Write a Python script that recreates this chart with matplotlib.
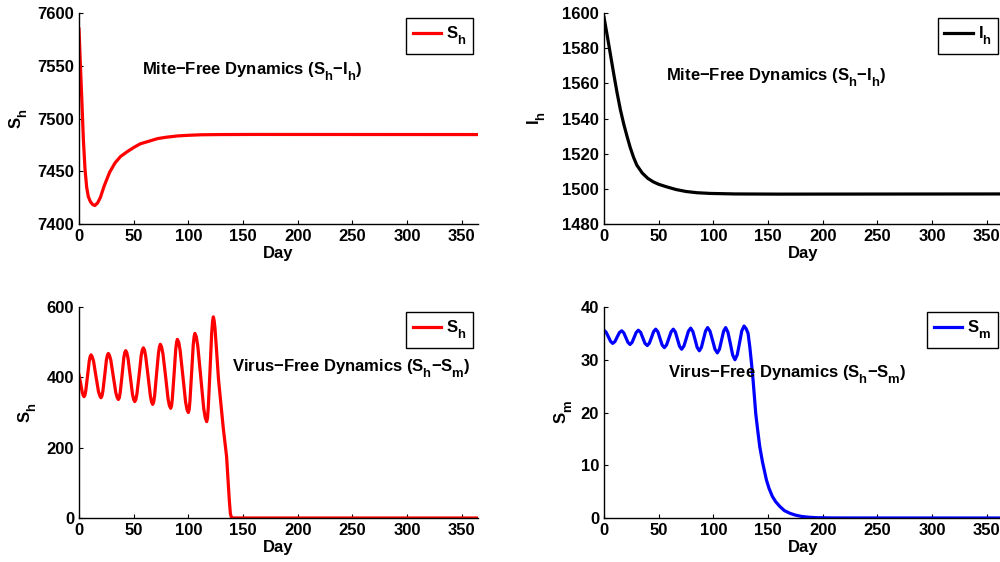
import matplotlib
matplotlib.use("Agg")
import matplotlib.pyplot as plt

plt.rcParams["font.family"] = ["Liberation Sans", "DejaVu Sans"]
plt.rcParams["font.weight"] = "bold"
plt.rcParams["font.size"] = 12
plt.rcParams["mathtext.fontset"] = "custom"
plt.rcParams["mathtext.rm"] = "Liberation Sans:bold"
plt.rcParams["mathtext.it"] = "Liberation Sans:bold"
plt.rcParams["mathtext.bf"] = "Liberation Sans:bold"

# MATLAB-like subscripts: bigger and lower than the mathtext default
try:
    import matplotlib._mathtext as mt
    mt.SHRINK_FACTOR = 0.78
    mt.FontConstantsBase.sub1 = 0.75
except Exception:
    pass

# mite-free: S_h
mf_sh_days = [0, 1, 2.5, 4, 5.5, 7, 8.5, 10.5, 12.5, 14.5, 17, 19.5, 23, 28, 33, 38, 44,
              50, 56, 64, 72, 80, 90, 100, 112, 130, 160, 365]
mf_sh_vals = [7584.8, 7558, 7520, 7480, 7452, 7435, 7426, 7421, 7418.5, 7417.5, 7420, 7425,
              7436, 7449, 7458, 7464, 7468.5, 7472.5, 7476, 7478.5, 7481, 7482.3, 7483.5,
              7484.1, 7484.6, 7484.8, 7484.9, 7484.8]

# mite-free: I_h
mf_ih_days = [0, 3, 6, 9, 12, 15, 18, 21, 24, 27, 30, 35, 40, 45, 50, 57, 66, 75, 85, 97,
              120, 160, 365]
mf_ih_vals = [1597.6, 1587, 1576, 1565, 1554.5, 1545, 1537, 1530, 1523.5, 1518, 1513.5,
              1509, 1506, 1504, 1502.6, 1501.2, 1499.6, 1498.5, 1497.8, 1497.4, 1497.1,
              1497, 1497.1]

# virus-free: S_h
vf_sh_days = [0, 1.5, 3, 3.8, 4.6, 5.4, 6.2, 7.8, 9.4, 10.2, 11, 12, 13.3, 15.5, 17.8,
              19.1, 20.1, 21, 21.8, 23.5, 25.1, 26, 26.8, 27.8, 29.1, 31.4, 33.7, 35, 36,
              36.9, 37.7, 39.4, 41, 41.9, 42.7, 43.7, 44.8, 46.9, 48.9, 50, 51, 52, 53, 55,
              56.9, 57.9, 58.9, 59.9, 61, 63.2, 65.3, 66.4, 67.4, 68.3, 69.2, 70.9, 72.7,
              73.6, 74.4, 75.5, 76.8, 79.2, 81.5, 82.7, 83.9, 84.7, 85.4, 87, 88.5, 89.3,
              90, 91.2, 92.5, 95, 97.5, 98.8, 100, 100.8, 101.5, 103, 104.5, 105.3, 106,
              107.3, 108.7, 111.4, 114.1, 115.5, 116.8, 117.6, 118.3, 119.9, 121.4, 122.2,
              122.9, 123.6, 124.4, 125.8, 127.6, 129.8, 132, 135, 136.5, 137.5, 138.5,
              139.5, 141, 365]
vf_sh_vals = [407, 383, 357, 349, 345, 349, 362, 404, 447, 459, 464, 459, 446, 403, 360,
              347, 342, 347, 360, 405, 450, 463, 468, 463, 449, 402, 356, 342, 337,
              342, 357, 406, 456, 470.5, 476, 470.5, 455, 403, 352, 337, 331, 337, 353, 407,
              462, 478, 484, 478, 460, 403, 347, 329.5, 323, 329.5, 348, 408, 469,
              487, 494, 487, 467, 403, 338, 319.5, 312, 319.5, 340, 410, 480, 500.5,
              508, 500, 477, 404, 330, 308.5, 300, 308.5, 333, 412, 492, 516, 525,
              515.5, 488, 400, 311, 285, 274, 285, 317, 423, 528, 560,
              572, 562, 540, 478, 395, 325, 255, 175, 100, 50, 12,
              1, 0, 0]

# virus-free: S_m
vf_sm_days = [0, 2, 4, 6, 7.9, 10, 12, 14.1, 16.2, 18.1, 20, 21.9, 23.8, 25.7, 27.6, 29.5,
              31.4, 33.5, 35.5, 37.5, 39.6, 41.5, 43.5, 45.4, 47.3, 49.3, 51.2, 53.2, 55.2,
              57.2, 59.3, 61.4, 63.4, 65.3, 67.2, 69.1, 71, 73.1, 75.2, 77.2, 79.3, 81.3,
              83.3, 85.2, 87.2, 89.1, 91, 92.9, 94.8, 97, 99.3, 101.5, 103.7, 105.6, 107.5,
              109.4, 111.3, 113.4, 115.6, 117.7, 119.8, 121.9, 124, 126, 128.1, 130, 131.8,
              133.4, 135, 136.4, 138.8, 140.5, 142.5, 145, 148.6, 151, 154, 157, 160.8, 165,
              170, 175, 180.6, 187, 194, 210, 365]
vf_sm_vals = [35.6, 35.2, 34.35, 33.5, 33.1, 33.45, 34.3, 35.15, 35.5, 35.1, 34.2, 33.3,
              32.9, 33.3, 34.25, 35.2, 35.6, 35.2, 34.15, 33.1, 32.7, 33.15, 34.25, 35.35,
              35.8, 35.3, 34.05, 32.8, 32.3, 32.8, 34.05, 35.3, 35.8, 35.25, 33.9, 32.55,
              32, 32.6, 34, 35.4, 36, 35.35, 33.85, 32.35, 31.7, 32.35, 33.9, 35.45, 36.1,
              35.4, 33.7, 32, 31.3, 32, 33.7, 35.4, 36.1, 35.2, 33.05, 30.9, 30, 30.95,
              33.2, 35.45, 36.4, 35.9, 35, 32.4, 29.2, 26.1, 19.8, 16.8, 13.5, 10.6, 7.2,
              5.6, 4.1, 3.1, 2.2, 1.4, 0.9, 0.55, 0.3, 0.15, 0.06, 0.01, 0]

x_ticks = [0, 50, 100, 150, 200, 250, 300, 350]

mf_title = "Mite\u2212Free Dynamics ($S_h$\u2212$I_h$)"
vf_title = "Virus\u2212Free Dynamics ($S_h$\u2212$S_m$)"

fig = plt.figure(figsize=(10, 5.62), dpi=100)

W = 0.399
H = 0.3754
ax1 = fig.add_axes([0.079, 0.6014, W, H])
ax2 = fig.add_axes([0.604, 0.6014, W, H])
ax3 = fig.add_axes([0.079, 0.0783, W, H])
ax4 = fig.add_axes([0.604, 0.0783, W, H])


def style(ax, ylim, yticks, ylabel, ylab_x):
    ax.set_xlim(0, 365)
    ax.set_ylim(*ylim)
    ax.set_xticks(x_ticks)
    ax.set_yticks(yticks)
    for s in ["top", "right"]:
        ax.spines[s].set_visible(False)
    for s in ["left", "bottom"]:
        ax.spines[s].set_linewidth(1.0)
    ax.tick_params(direction="in", length=3, width=0.8, labelsize=12, pad=3.5)
    ax.set_xlabel("Day", fontsize=12, fontweight="bold")
    ax.xaxis.set_label_coords(0.5, -0.105)
    ax.set_ylabel(ylabel, fontsize=12, fontweight="bold")
    ax.yaxis.set_label_coords(ylab_x, 0.5)
    leg = ax.legend(loc="upper right", fancybox=False, framealpha=1, edgecolor="black",
                    handlelength=1.7, handletextpad=0.3, borderpad=0.4,
                    borderaxespad=0.3, fontsize=12)
    leg.get_frame().set_linewidth(1.0)


ax1.plot(mf_sh_days, mf_sh_vals, color="red", lw=2.3, label="$S_h$")
ax1.text(57.6, 7544, mf_title, fontsize=12, fontweight="bold", va="center")
style(ax1, (7400, 7600), [7400, 7450, 7500, 7550, 7600], "$S_h$", -0.123)

ax2.plot(mf_ih_days, mf_ih_vals, color="black", lw=2.3, label="$I_h$")
ax2.text(56.4, 1563, mf_title, fontsize=12, fontweight="bold", va="center")
style(ax2, (1480, 1600), [1480, 1500, 1520, 1540, 1560, 1580, 1600], "$I_h$", -0.14)

ax3.plot(vf_sh_days, vf_sh_vals, color="red", lw=2.3, label="$S_h$")
ax3.text(139.7, 426, vf_title, fontsize=12, fontweight="bold", va="center")
style(ax3, (0, 600), [0, 200, 400, 600], "$S_h$", -0.10)

ax4.plot(vf_sm_days, vf_sm_vals, color="blue", lw=2.3, label="$S_m$")
ax4.text(58.8, 27.1, vf_title, fontsize=12, fontweight="bold", va="center")
style(ax4, (0, 40), [0, 10, 20, 30, 40], "$S_m$", -0.073)

fig.savefig("out.png", dpi=100)
